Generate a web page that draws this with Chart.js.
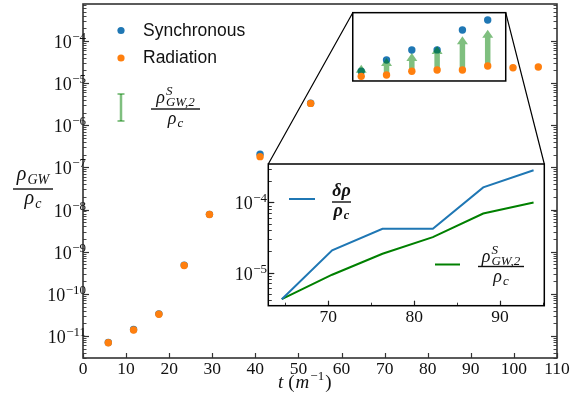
<!DOCTYPE html>
<html>
<head>
<meta charset="utf-8">
<script src="https://cdn.jsdelivr.net/npm/chart.js@4.4.1/dist/chart.umd.min.js"></script>
<style>
  body { margin: 0; background: #fff; }
  #wrap { position: relative; width: 578px; height: 393px; }
  #wrap canvas { position: absolute; left: 0; top: 0; }
</style>
</head>
<body>
<div id="wrap">
  <canvas id="mainChart" width="578" height="393"></canvas>
  <canvas id="insetChart" width="578" height="393"></canvas>
</div>
<script>
// main panel data, t in units of 1/m
const tSync = [5.87, 11.74, 17.61, 23.48, 29.35, 41.09, 52.83, 64.57, 70.44, 76.31, 82.18, 88.05, 93.92];
const rhoSync = [7.0e-12, 1.42e-11, 3.35e-11, 4.8e-10, 7.7e-9, 2.05e-7, 3.35e-6, 1.92e-5, 3.55e-5, 6.1e-5, 6.15e-5, 1.83e-4, 3.15e-4];
const tRad = [5.87, 11.74, 17.61, 23.48, 29.35, 41.09, 52.83, 64.57, 70.44, 76.31, 82.18, 88.05, 93.92, 99.79, 105.66];
const rhoRad = [6.9e-12, 1.39e-11, 3.27e-11, 4.7e-10, 7.6e-9, 1.8e-7, 3.3e-6, 1.45e-5, 1.56e-5, 1.91e-5, 2.05e-5, 2.05e-5, 2.55e-5, 2.32e-5, 2.42e-5];
// green arrows: from the radiation point up to this value
const arrowT = [64.57, 70.44, 76.31, 82.18, 88.05, 93.92];
const arrowTop = [2.74e-5, 3.95e-5, 5.19e-5, 7.6e-5, 1.29e-4, 1.85e-4];

const xTicks = [0, 10, 20, 30, 40, 50, 60, 70, 80, 90, 100, 110];
const yTickExps = [-11, -10, -9, -8, -7, -6, -5, -4];

// zoom box drawn on the main panel: [tMin, tMax], [rhoMin, rhoMax]
const zoomT = [62.6, 98.1];
const zoomRho = [1.125e-5, 4.7e-4];

// inset data
const insetT = [64.57, 70.44, 76.31, 82.18, 88.05, 93.92];
const deltaRho = [4.16e-6, 2.08e-5, 4.2e-5, 4.2e-5, 1.64e-4, 2.88e-4];
const rhoS2 = [4.16e-6, 9.3e-6, 1.85e-5, 3.2e-5, 6.95e-5, 1.0e-4];
const insetXTicks = [70, 80, 90];
const insetXMinor = [65, 75, 85, 95];
const insetYTickExps = [-5, -4];

const BLUE = '#1f77b4';
const ORANGE = '#ff7f0e';
const GREEN = '#008000';
const GREEN_A = 'rgba(0,128,0,0.5)';
const SERIF = '"Liberation Serif", "DejaVu Serif", serif';
const SANS = '"Liberation Sans", Arial, sans-serif';

// draws a row of text pieces (sizes, offsets, italics), returns width
function drawRuns(ctx, parts, x, y, draw) {
  let cx = x;
  parts.forEach(p => {
    ctx.font = (p.i ? 'italic ' : '') + (p.b ? 'bold ' : '') + p.s + 'px ' + (p.f || SERIF);
    const w = ctx.measureText(p.t).width;
    if (draw) ctx.fillText(p.t, cx, y + (p.dy || 0));
    if (!p.stay) cx += w + (p.k || 0);
  });
  return cx - x;
}

function drawFrac(ctx, left, barY, num, den, barW, numDy, denDy) {
  ctx.textAlign = 'left';
  ctx.textBaseline = 'alphabetic';
  const wn = drawRuns(ctx, num, 0, 0, false);
  const wd = drawRuns(ctx, den, 0, 0, false);
  drawRuns(ctx, num, left + (barW - wn) / 2, barY - numDy, true);
  drawRuns(ctx, den, left + (barW - wd) / 2, barY + denDy, true);
  ctx.fillRect(left, barY - 0.7, barW, 1.4);
}

function powLabel(ctx, exp, xRight, yTick) {
  ctx.textAlign = 'left';
  ctx.textBaseline = 'alphabetic';
  const parts = [{ t: '10', s: 18, k: 0.5 }, { t: '\u2212' + Math.abs(exp), s: 13, dy: -7 }];
  const w = drawRuns(ctx, parts, 0, 0, false);
  drawRuns(ctx, parts, xRight - w, yTick + 7, true);
}

function tick(ctx, x1, y1, x2, y2, w) {
  ctx.lineWidth = w;
  ctx.beginPath();
  ctx.moveTo(x1, y1);
  ctx.lineTo(x2, y2);
  ctx.stroke();
}

// minor+major ticks of a log axis, inside the frame
function logTicks(ctx, scale, area, bothSides) {
  const min = scale.min, max = scale.max;
  for (let e = Math.floor(Math.log10(min)); e <= Math.ceil(Math.log10(max)); e++) {
    for (let m = 1; m <= 9; m++) {
      const v = m * Math.pow(10, e);
      if (v < min || v > max) continue;
      const y = Math.round(scale.getPixelForValue(v)) + 0.5;
      const len = m === 1 ? 6 : 3.5;
      const w = m === 1 ? 1.2 : 0.9;
      tick(ctx, area.left, y, area.left + len, y, w);
      if (bothSides) tick(ctx, area.right, y, area.right - len, y, w);
    }
  }
}

function drawArrow(ctx, x, yb, yt) {
  const sw = 5.5, hw = 11, hl = 8;
  ctx.fillStyle = GREEN_A;
  ctx.beginPath();
  ctx.moveTo(x - sw / 2, yb);
  ctx.lineTo(x - sw / 2, yt + hl);
  ctx.lineTo(x - hw / 2, yt + hl);
  ctx.lineTo(x, yt);
  ctx.lineTo(x + hw / 2, yt + hl);
  ctx.lineTo(x + sw / 2, yt + hl);
  ctx.lineTo(x + sw / 2, yb);
  ctx.closePath();
  ctx.fill();
}

const mainDecor = {
  id: 'mainDecor',
  afterDatasetDraw(chart, args) {
    // arrows sit above the blue points but under the orange ones
    if (args.index !== 1) return;
    const ctx = chart.ctx, sx = chart.scales.x, sy = chart.scales.y;
    ctx.save();
    arrowT.forEach((t, i) => {
      const k = tRad.indexOf(t);
      drawArrow(ctx, sx.getPixelForValue(t), sy.getPixelForValue(rhoRad[k]), sy.getPixelForValue(arrowTop[i]));
    });
    ctx.restore();
  },
  afterDraw(chart) {
    const ctx = chart.ctx, a = chart.chartArea, sx = chart.scales.x, sy = chart.scales.y;
    ctx.save();
    ctx.strokeStyle = '#333';
    ctx.fillStyle = '#111';
    // ticks
    logTicks(ctx, sy, a, true);
    xTicks.forEach(v => {
      const x = Math.round(sx.getPixelForValue(v)) + 0.5;
      tick(ctx, x, a.bottom, x, a.bottom - 5, 1.2);
    });
    // frame
    ctx.lineWidth = 1.6;
    ctx.strokeRect(a.left, a.top, a.right - a.left, a.bottom - a.top);
    // tick labels
    ctx.font = '17.5px ' + SERIF;
    ctx.textAlign = 'center';
    ctx.textBaseline = 'alphabetic';
    xTicks.forEach(v => ctx.fillText(String(v), sx.getPixelForValue(v), 374));
    yTickExps.forEach(e => powLabel(ctx, e, 86, sy.getPixelForValue(Math.pow(10, e))));
    // axis titles
    ctx.textAlign = 'left';
    drawRuns(ctx, [
      { t: 't', s: 19, i: true, k: 5 }, { t: '(', s: 19, k: 1 }, { t: 'm', s: 19, i: true, k: 1 },
      { t: '\u22121', s: 13, dy: -8, k: 1 }, { t: ')', s: 19 }
    ], 278, 388, true);
    drawFrac(ctx, 13, 189,
      [{ t: '\u03c1', s: 20, i: true, k: 1 }, { t: 'GW', s: 14, i: true, dy: 4 }],
      [{ t: '\u03c1', s: 20, i: true, k: 1 }, { t: 'c', s: 14, i: true, dy: 4 }],
      40, 9, 15);
    // legend
    [[BLUE, 'Synchronous', 30.5, 36], [ORANGE, 'Radiation', 58, 63]].forEach(r => {
      ctx.fillStyle = r[0];
      ctx.beginPath();
      ctx.arc(121, r[2], 3.6, 0, Math.PI * 2);
      ctx.fill();
      ctx.fillStyle = '#111';
      ctx.font = '17.5px ' + SANS;
      ctx.fillText(r[1], 143, r[3]);
    });
    ctx.strokeStyle = GREEN_A;
    tick(ctx, 121, 94, 121, 121, 2.5);
    tick(ctx, 117.5, 94, 124.5, 94, 1.8);
    tick(ctx, 117.5, 121, 124.5, 121, 1.8);
    ctx.fillStyle = '#111';
    drawFrac(ctx, 151, 109,
      [{ t: '\u03c1', s: 18, i: true, k: 1 }, { t: 'S', s: 13, i: true, dy: -8, stay: true }, { t: 'GW,2', s: 13, i: true, dy: 3 }],
      [{ t: '\u03c1', s: 18, i: true, k: 1 }, { t: 'c', s: 13, i: true, dy: 3 }],
      49, 6, 15);
    ctx.restore();
  }
};

const mainChart = new Chart(document.getElementById('mainChart'), {
  type: 'scatter',
  data: {
    datasets: [
      { label: 'Radiation', data: tRad.map((t, i) => ({ x: t, y: rhoRad[i] })), backgroundColor: ORANGE, pointRadius: 3.7, pointBorderWidth: 0 },
      { label: 'Synchronous', data: tSync.map((t, i) => ({ x: t, y: rhoSync[i] })), backgroundColor: BLUE, pointRadius: 3.7, pointBorderWidth: 0 }
    ]
  },
  options: {
    responsive: false,
    animation: false,
    devicePixelRatio: 1,
    layout: { padding: { left: 0, right: 21, top: 4, bottom: 0 } },
    plugins: { legend: { display: false }, tooltip: { enabled: false } },
    scales: {
      x: {
        type: 'linear', min: 0, max: 110,
        grid: { display: false }, border: { display: false }, ticks: { display: false },
        afterFit: s => { s.height = 35; }
      },
      y: {
        type: 'logarithmic', min: 3.0e-12, max: 7.55e-4,
        grid: { display: false }, border: { display: false }, ticks: { display: false },
        afterFit: s => { s.width = 83; }
      }
    }
  },
  plugins: [mainDecor]
});

const insetDecor = {
  id: 'insetDecor',
  beforeDraw(chart) {
    const ctx = chart.ctx, a = chart.chartArea;
    ctx.save();
    ctx.fillStyle = '#fff';
    ctx.fillRect(a.left, a.top, a.right - a.left, a.bottom - a.top);
    ctx.restore();
  },
  afterDraw(chart) {
    const ctx = chart.ctx, a = chart.chartArea, sx = chart.scales.x, sy = chart.scales.y;
    ctx.save();
    ctx.strokeStyle = '#222';
    ctx.fillStyle = '#111';
    logTicks(ctx, sy, a, false);
    insetXTicks.forEach(v => {
      const x = Math.round(sx.getPixelForValue(v)) + 0.5;
      tick(ctx, x, a.bottom, x, a.bottom - 5, 1.2);
    });
    insetXMinor.forEach(v => {
      const x = Math.round(sx.getPixelForValue(v)) + 0.5;
      tick(ctx, x, a.bottom, x, a.bottom - 3, 0.9);
    });
    ctx.strokeStyle = '#000';
    ctx.lineWidth = 1.5;
    ctx.strokeRect(a.left, a.top, a.right - a.left, a.bottom - a.top);

    ctx.font = '17.5px ' + SERIF;
    ctx.textAlign = 'center';
    ctx.textBaseline = 'alphabetic';
    insetXTicks.forEach(v => ctx.fillText(String(v), sx.getPixelForValue(v), 322));
    insetYTickExps.forEach(e => powLabel(ctx, e, 267, sy.getPixelForValue(Math.pow(10, e))));

    // zoom box on the main panel and the two connector lines
    const mx = mainChart.scales.x, my = mainChart.scales.y;
    const bx1 = mx.getPixelForValue(zoomT[0]), bx2 = mx.getPixelForValue(zoomT[1]);
    const by1 = my.getPixelForValue(zoomRho[1]), by2 = my.getPixelForValue(zoomRho[0]);
    ctx.lineWidth = 1.5;
    ctx.strokeRect(bx1, by1, bx2 - bx1, by2 - by1);
    ctx.lineWidth = 1.2;
    ctx.beginPath();
    ctx.moveTo(bx1, by1);
    ctx.lineTo(a.left, a.top);
    ctx.moveTo(bx2, by1);
    ctx.lineTo(a.right, a.top);
    ctx.stroke();

    // inset legend
    ctx.strokeStyle = BLUE;
    tick(ctx, 289, 199, 315, 199, 2);
    ctx.strokeStyle = GREEN;
    tick(ctx, 435, 264.5, 460, 264.5, 2);
    ctx.fillStyle = '#111';
    drawFrac(ctx, 332, 202,
      [{ t: '\u03b4\u03c1', s: 18, i: true, b: true }],
      [{ t: '\u03c1', s: 18, i: true, b: true, k: 1 }, { t: 'c', s: 12.5, i: true, b: true, dy: 3 }],
      19, 6, 14);
    drawFrac(ctx, 478, 266.5,
      [{ t: '\u03c1', s: 18, i: true, k: 1 }, { t: 'S', s: 13, i: true, dy: -8, stay: true }, { t: 'GW,2', s: 13, i: true, dy: 3 }],
      [{ t: '\u03c1', s: 18, i: true, k: 1 }, { t: 'c', s: 13, i: true, dy: 3 }],
      46, 5, 15);
    ctx.restore();
  }
};

new Chart(document.getElementById('insetChart'), {
  type: 'line',
  data: {
    datasets: [
      { label: 'delta rho', data: insetT.map((t, i) => ({ x: t, y: deltaRho[i] })), borderColor: BLUE, borderWidth: 2, pointRadius: 0, tension: 0 },
      { label: 'rho S GW 2', data: insetT.map((t, i) => ({ x: t, y: rhoS2[i] })), borderColor: GREEN, borderWidth: 2, pointRadius: 0, tension: 0 }
    ]
  },
  options: {
    responsive: false,
    animation: false,
    devicePixelRatio: 1,
    layout: { padding: { left: 238.3, right: 33.7, top: 164, bottom: 57.3 } },
    plugins: { legend: { display: false }, tooltip: { enabled: false } },
    scales: {
      x: {
        type: 'linear', min: 63.0, max: 95.17,
        grid: { display: false }, border: { display: false }, ticks: { display: false },
        afterFit: s => { s.height = 30; }
      },
      y: {
        type: 'logarithmic', min: 3.36e-6, max: 3.54e-4,
        grid: { display: false }, border: { display: false }, ticks: { display: false },
        afterFit: s => { s.width = 30; }
      }
    }
  },
  plugins: [insetDecor]
});
</script>
</body>
</html>
